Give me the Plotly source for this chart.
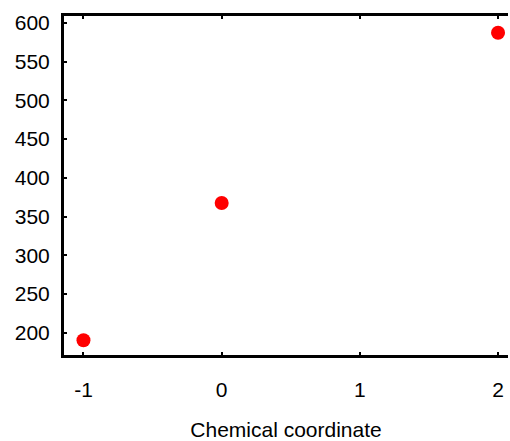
import plotly.graph_objects as go

x_vals = [-1, 0, 2]
y_vals = [190.5, 367.5, 587]
x_ticks = [-1, 0, 1, 2]
y_ticks = [200, 250, 300, 350, 400, 450, 500, 550, 600]

fig = go.Figure(go.Scatter(x=x_vals, y=y_vals, mode="markers",
                           marker=dict(color="#ff0000", size=14),
                           showlegend=False, cliponaxis=False))

font = dict(family="Liberation Sans, Arial", size=21, color="black")
fig.update_layout(
    width=510, height=441,
    margin=dict(l=64, r=2, t=16, b=86),
    plot_bgcolor="white", paper_bgcolor="white",
    font=font,
)
fig.update_xaxes(range=[-1.141, 2.072], tickvals=x_ticks, ticktext=[str(v) for v in x_ticks],
                 showline=True, linecolor="black", linewidth=3, mirror="allticks",
                 ticks="inside", ticklen=3, tickwidth=2, tickcolor="black",
                 showgrid=False, zeroline=False, ticklabelstandoff=14, automargin=False,
                 title=dict(text="Chemical coordinate", font=font, standoff=25))
fig.update_yaxes(range=[171.4, 608.7], tickvals=y_ticks, automargin=False,
                 showline=True, linecolor="black", linewidth=3,
                 ticks="inside", ticklen=3, tickwidth=2, tickcolor="black",
                 showgrid=False, zeroline=False, ticklabelstandoff=7)
fig.write_html("out.html", config={"displayModeBar": False},
               post_script="document.body.style.margin='0';document.body.style.overflow='hidden';")
